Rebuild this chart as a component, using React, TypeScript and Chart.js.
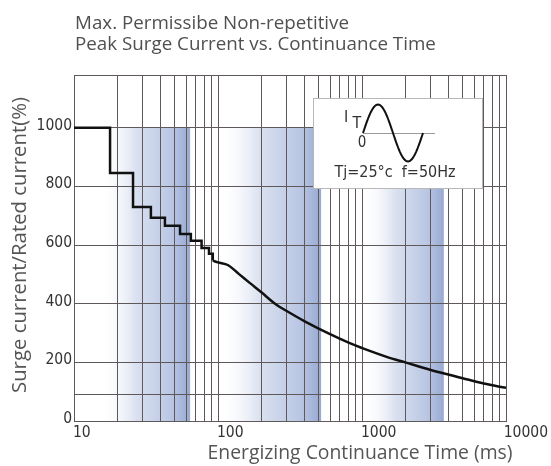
import { useEffect, useRef } from 'react';
import { Chart, registerables } from 'chart.js';

Chart.register(...registerables);

// ---- data ----
const TITLE_LINES = ['Max. Permissibe Non-repetitive', 'Peak Surge Current vs. Continuance Time'];
const X_TITLE = 'Energizing Continuance Time (ms)';
const Y_TITLE = 'Surge current/Rated current(%)';

const X_TICK_LABELS = [10, 100, 1000, 10000];
const X_GRID = [
  10, 20, 30, 40, 50, 60, 70, 80, 90,
  100, 200, 300, 400, 500, 600, 700, 800, 900,
  1000, 2000, 3000, 4000, 5000, 6000, 7000, 8000, 9000, 10000,
];
const Y_TICK_LABELS = [0, 200, 400, 600, 800, 1000];
const Y_GRID = [0, 92, 200, 400, 600, 800, 1000, 1180];

// stepped part (ms, %)
const STEP_TIMES = [10, 17.8, 25.7, 34.2, 42.8, 54.5, 64.8, 76.9, 86.6, 92];
const STEP_LEVELS = [1000, 846, 730, 693, 666, 638, 615, 590, 570, 547];

// smooth part (ms, %)
const CURVE_TIMES = [92, 100, 117, 140, 166, 200, 249, 300, 400, 600, 800, 1000, 1500, 2000, 3000, 5000, 7000, 10000];
const CURVE_VALUES = [547, 541, 532, 501, 471, 439, 400, 375, 340, 296, 268, 249, 218, 200, 174, 146, 128, 113];

// shaded bands (ms ranges) reaching up to 1000 %
const BAND_STARTS = [15, 100, 1000];
const BAND_ENDS = [64, 520, 3700];
const BAND_TOP = 1000;

const INSET_TEXT = 'Tj=25\u00b0c  f=50Hz';

const COND = '"DejaVu Sans Condensed", "Liberation Sans Narrow", sans-serif';
const SANS = '"Open Sans", "Noto Sans", sans-serif';
const GRID_COLOR = '#5f5858';

function fitText(ctx: CanvasRenderingContext2D, text: string, family: string, width: number) {
  ctx.font = `17px ${family}`;
  const w = ctx.measureText(text).width;
  const size = (17 * width) / w;
  ctx.font = `${size.toFixed(2)}px ${family}`;
}

const decor = {
  id: 'decor',
  beforeDraw(chart: any) {
    const { ctx } = chart;
    const x = chart.scales.x;
    const y = chart.scales.y;
    ctx.save();
    ctx.fillStyle = '#ffffff';
    ctx.fillRect(0, 0, chart.width, chart.height);
    BAND_STARTS.forEach((a, i) => {
      const x0 = x.getPixelForValue(a);
      const x1 = x.getPixelForValue(BAND_ENDS[i]);
      const yt = y.getPixelForValue(BAND_TOP);
      const yb = y.getPixelForValue(0);
      const g = ctx.createLinearGradient(x0, 0, x1, 0);
      g.addColorStop(0, 'rgba(255,255,255,0)');
      g.addColorStop(0.4, 'rgba(218,225,240,1)');
      g.addColorStop(0.8, 'rgba(185,198,227,1)');
      g.addColorStop(1, 'rgba(152,170,211,1)');
      ctx.fillStyle = g;
      ctx.fillRect(x0, yt, x1 - x0, yb - yt);
    });
    ctx.restore();
  },
  afterDraw(chart: any) {
    const { ctx, chartArea } = chart;
    const x = chart.scales.x;
    const y = chart.scales.y;
    ctx.save();

    // title
    ctx.fillStyle = '#505050';
    ctx.textAlign = 'left';
    ctx.textBaseline = 'middle';
    fitText(ctx, TITLE_LINES[1], SANS, 361);
    ctx.fillText(TITLE_LINES[0], chartArea.left + 1, 24);
    ctx.fillText(TITLE_LINES[1], chartArea.left + 1, 45);

    // y tick labels
    ctx.fillStyle = '#333333';
    ctx.font = `15.5px ${COND}`;
    ctx.textAlign = 'right';
    ctx.textBaseline = 'middle';
    Y_TICK_LABELS.forEach((v) => {
      ctx.fillText(String(v), chartArea.left - 2, y.getPixelForValue(v) - 2);
    });

    // x tick labels
    ctx.textAlign = 'left';
    X_TICK_LABELS.forEach((v) => {
      const s = String(v);
      const w = ctx.measureText(s).width;
      let px = x.getPixelForValue(v) - 1;
      if (px + w > chart.width - 3) px = chart.width - 3 - w;
      ctx.fillText(s, px, chartArea.bottom + 12);
    });

    // axis titles
    ctx.fillStyle = '#555555';
    ctx.textAlign = 'center';
    fitText(ctx, X_TITLE, SANS, 305);
    ctx.fillText(X_TITLE, 360, chartArea.bottom + 32);
    ctx.save();
    ctx.translate(20, 245);
    ctx.rotate(-Math.PI / 2);
    fitText(ctx, Y_TITLE, SANS, 296);
    ctx.fillText(Y_TITLE, 0, 0);
    ctx.restore();

    // inset box
    const bx = chartArea.left + 239;
    const by = chartArea.top + 23;
    const bw = 169;
    const bh = 90;
    ctx.fillStyle = '#ffffff';
    ctx.fillRect(bx, by, bw, bh);
    ctx.strokeStyle = '#b8b8b8';
    ctx.lineWidth = 1;
    ctx.strokeRect(bx + 0.5, by + 0.5, bw, bh);

    // sine sketch
    const sx = bx + 50;
    const sy = by + 35;
    ctx.strokeStyle = '#9a9a9a';
    ctx.beginPath();
    ctx.moveTo(sx, sy + 0.5);
    ctx.lineTo(sx + 72, sy + 0.5);
    ctx.stroke();
    ctx.strokeStyle = '#111111';
    ctx.lineWidth = 2;
    ctx.beginPath();
    for (let i = 0; i <= 60; i++) {
      const px = sx + i;
      const py = sy - 28.5 * Math.sin((i / 60) * Math.PI * 2);
      if (i === 0) ctx.moveTo(px, py);
      else ctx.lineTo(px, py);
    }
    ctx.stroke();

    ctx.fillStyle = '#333333';
    ctx.textAlign = 'center';
    ctx.font = `16px ${COND}`;
    ctx.fillText('I', sx - 17, sy - 15);
    ctx.fillText('T', sx - 6, sy - 9);
    ctx.font = `15px ${COND}`;
    ctx.fillText('0', sx - 1, sy + 10);
    ctx.font = `16px ${COND}`;
    ctx.fillText(INSET_TEXT, bx + 82, by + 75);

    ctx.restore();
  },
};

export default function App() {
  const ref = useRef<HTMLCanvasElement>(null);
  useEffect(() => {
    document.body.style.margin = '0';
    const stepPoints = STEP_TIMES.map((t, i) => ({ x: t, y: STEP_LEVELS[i] }));
    const curvePoints = CURVE_TIMES.map((t, i) => ({ x: t, y: CURVE_VALUES[i] }));
    const chart = new Chart(ref.current as HTMLCanvasElement, {
      type: 'line',
      data: {
        datasets: [
          {
            data: stepPoints,
            stepped: 'before',
            borderColor: '#111111',
            borderWidth: 2.5,
            pointRadius: 0,
            fill: false,
          } as any,
          {
            data: curvePoints,
            borderColor: '#111111',
            borderWidth: 2.5,
            pointRadius: 0,
            tension: 0.35,
            fill: false,
          } as any,
        ],
      },
      options: {
        animation: false,
        responsive: false,
        devicePixelRatio: 1,
        layout: { padding: { left: 0, right: 45, top: 75, bottom: 0 } },
        plugins: { legend: { display: false }, title: { display: false }, tooltip: { enabled: false } },
        scales: {
          x: {
            type: 'logarithmic',
            min: 10,
            max: 10000,
            afterBuildTicks: (s: any) => {
              s.ticks = X_GRID.map((v) => ({ value: v }));
            },
            afterFit: (s: any) => {
              s.height = 45;
            },
            ticks: { display: false },
            grid: { color: GRID_COLOR, lineWidth: 1, drawTicks: false },
            border: { display: true, color: GRID_COLOR, width: 1 },
          },
          y: {
            type: 'linear',
            min: 0,
            max: 1180,
            afterBuildTicks: (s: any) => {
              s.ticks = Y_GRID.map((v) => ({ value: v }));
            },
            afterFit: (s: any) => {
              s.width = 74;
            },
            ticks: { display: false },
            grid: { color: GRID_COLOR, lineWidth: 1, drawTicks: false },
            border: { display: true, color: GRID_COLOR, width: 1 },
          },
        },
      } as any,
      plugins: [decor],
    });
    return () => chart.destroy();
  }, []);
  return (
    <div style={{ width: 551, height: 466 }}>
      <canvas ref={ref} width={551} height={466} style={{ display: 'block' }} />
    </div>
  );
}
